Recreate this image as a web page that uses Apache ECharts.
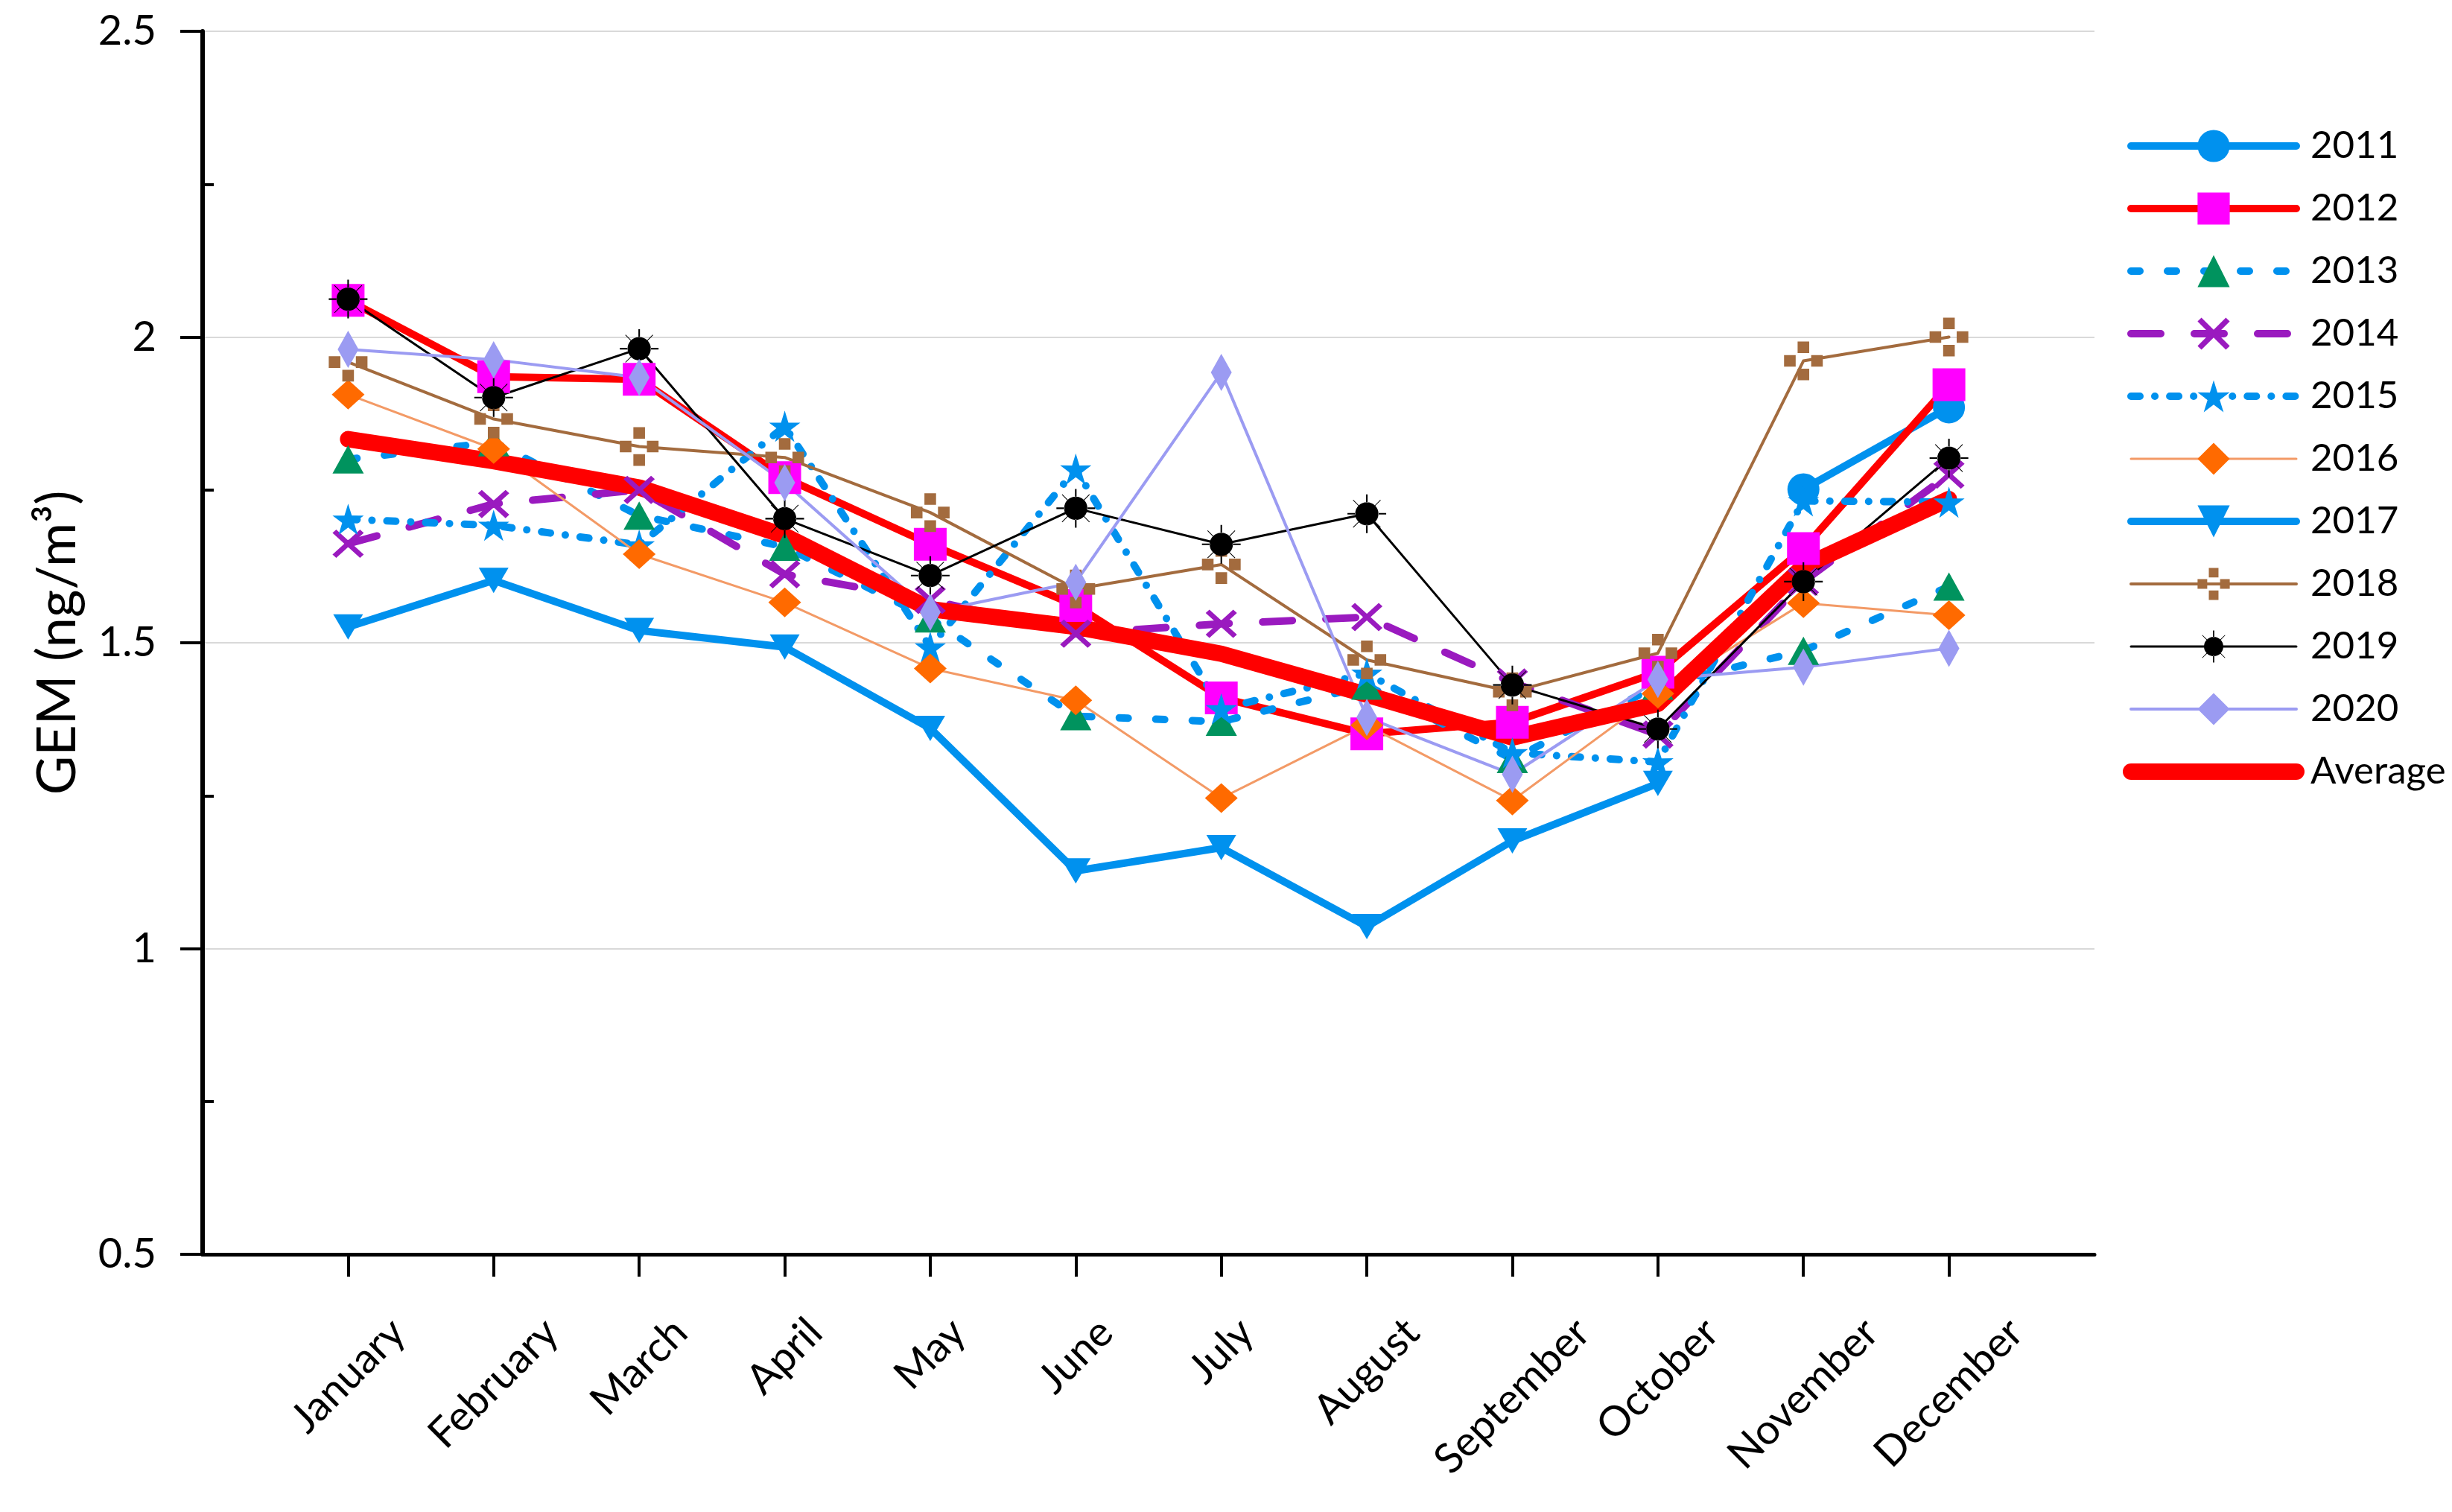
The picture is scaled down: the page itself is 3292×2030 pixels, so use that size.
<!DOCTYPE html>
<html>
<head>
<meta charset="utf-8">
<script src="https://cdn.jsdelivr.net/npm/echarts@6/dist/echarts.min.js"></script>
<style>
html,body{margin:0;padding:0;background:#fff;}
#chart{width:3292px;height:2030px;}
</style>
</head>
<body>
<div id="chart"></div>
<script>
// ---------- data ----------
const months = ['January','February','March','April','May','June','July','August','September','October','November','December'];
const yTicks = [0.5, 1, 1.5, 2, 2.5];
const minorTicks = [0.75, 1.25, 1.75, 2.25];

const y2011 = [null, null, null, null, null, null, null, null, null, null, 1.751, 1.885];
const y2012 = [2.06, 1.935, 1.931, 1.77, 1.661, 1.561, 1.41, 1.351, 1.37, 1.452, 1.654, 1.922];
const y2013 = [1.80, 1.828, 1.708, 1.657, 1.54, 1.38, 1.371, 1.43, 1.31, 1.43, 1.487, 1.592];
const y2014 = [1.662, 1.727, 1.75, 1.612, 1.57, 1.515, 1.531, 1.542, 1.435, 1.35, 1.60, 1.775];
const y2015 = [1.702, 1.692, 1.66, 1.854, 1.493, 1.784, 1.392, 1.45, 1.32, 1.305, 1.732, 1.73];
const y2016 = [1.906, 1.817, 1.645, 1.566, 1.458, 1.406, 1.246, 1.365, 1.242, 1.417, 1.565, 1.545];
const y2017 = [1.526, 1.602, 1.520, 1.493, 1.36, 1.127, 1.165, 1.036, 1.176, 1.27, null, null];
const y2018 = [1.959, 1.866, 1.821, 1.803, 1.713, 1.588, 1.628, 1.472, 1.42, 1.483, 1.961, 2.0];
const y2019 = [2.062, 1.901, 1.981, 1.703, 1.610, 1.720, 1.661, 1.711, 1.431, 1.359, 1.60, 1.802];
const y2020 = [1.980, 1.963, 1.934, 1.762, 1.55, 1.599, 1.942, 1.378, 1.285, 1.44, 1.46, 1.491];
const yAvg  = [1.833, 1.797, 1.754, 1.675, 1.555, 1.526, 1.482, 1.415, 1.345, 1.40, 1.625, 1.735];

// ---------- styles ----------
const FONT = 'Lato';
const BLUE = '#0091EE';
const SYM_X = 'path://M12,0 L50,38 L88,0 L100,12 L62,50 L100,88 L88,100 L50,62 L12,100 L0,88 L38,50 L0,12 Z';
const SYM_STAR = 'path://M50,0 L61.2,34.6 L97.6,34.5 L68.1,55.9 L79.4,90.5 L50,69 L20.6,90.5 L31.9,55.9 L2.4,34.5 L38.8,34.6 Z';
const SYM_PLUS = 'path://M35,0h30v30h-30z M0,35h30v30h-30z M70,35h30v30h-30z M35,70h30v30h-30z';
const SYM_SUN = 'path://M20,50 A30,30 0 1,0 80,50 A30,30 0 1,0 20,50 Z ' +
  'M48,0 h4 v21 h-4 Z M48,79 h4 v21 h-4 Z M0,48 h21 v4 h-21 Z M79,48 h21 v4 h-21 Z ' +
  'M71.9,70.5 L86.1,84.7 L84.7,86.1 L70.5,71.9 Z M28.1,29.5 L13.9,15.3 L15.3,13.9 L29.5,28.1 Z ' +
  'M71.9,29.5 L86.1,15.3 L84.7,13.9 L70.5,28.1 Z M28.1,70.5 L13.9,84.7 L15.3,86.1 L29.5,71.9 Z';

const seriesDefs = [
  {name:'2011', data:y2011, symbol:'circle', size:43, mColor:BLUE, lColor:BLUE, width:10, type:'solid'},
  {name:'2012', data:y2012, symbol:'rect', size:44, mColor:'#FF00FF', lColor:'#FF0000', width:10, type:'solid'},
  {name:'2013', data:y2013, symbol:'triangle', size:[42,38], mColor:'#00935E', lColor:BLUE, width:10, type:[12,37]},
  {name:'2014', data:y2014, symbol:SYM_X, size:[42,38], mColor:'#9A1ABF', lColor:'#9A1ABF', width:10, type:[40,45]},
  {name:'2015', data:y2015, symbol:SYM_STAR, size:42, mColor:BLUE, lColor:BLUE, width:10, type:[12,20,0.1,20]},
  {name:'2016', data:y2016, symbol:'diamond', size:[44,40], mColor:'#FF6A00', lColor:'#F39A66', width:3, type:'solid'},
  {name:'2017', data:y2017, symbol:'triangle', rotate:180, size:[40,34], mColor:BLUE, lColor:BLUE, width:10, type:'solid'},
  {name:'2018', data:y2018, symbol:SYM_PLUS, size:52, mColor:'#A36B3E', lColor:'#A36B3E', width:4, type:'solid'},
  {name:'2019', data:y2019, symbol:SYM_SUN, size:52, mColor:'#000000', lColor:'#000000', width:3, type:'solid'},
  {name:'2020', data:y2020, symbol:'diamond', size:[28,50], mColor:'#9B9BF2', lColor:'#9B9BF2', width:4, type:'solid'},
  {name:'Average', data:yAvg, symbol:'none', size:0, mColor:'#FF0000', lColor:'#FF0000', width:22, type:'solid'}
];

const series = seriesDefs.map(d => ({
  name: d.name,
  type: 'line',
  data: d.data.map((v, i) => [i + 1, v]),
  symbol: d.symbol,
  symbolSize: d.size,
  symbolRotate: d.rotate || 0,
  showSymbol: d.symbol !== 'none',
  itemStyle: {color: d.mColor, borderWidth: 0},
  lineStyle: {color: d.lColor, width: d.width, type: d.type, cap: 'round', join: 'round'},
  emphasis: {disabled: true},
  animation: false,
  z: 2
}));

// measure x label widths so the rotated labels can be centred under ticks
const LBL_FS = 56;
const ctx = document.createElement('canvas').getContext('2d');
ctx.font = LBL_FS + 'px ' + FONT;
const rich = {};
months.forEach((m, i) => {
  const w = ctx.measureText(m).width;
  rich['m' + (i + 1)] = {fontSize: LBL_FS, fontFamily: FONT, color: '#000', padding: [w / 2, w / 2, 0, 0]};
});

const legendData = seriesDefs.map(d => {
  const item = {name: d.name, lineStyle: {width: d.width}};
  if (d.symbol === 'none') item.itemStyle = {opacity: 0};
  return item;
});

const chart = echarts.init(document.getElementById('chart'), null, {renderer: 'canvas'});
chart.setOption({
  backgroundColor: '#ffffff',
  animation: false,
  grid: {left: 272, right: 480, top: 42, bottom: 346, containLabel: false},
  legend: {
    orient: 'vertical', left: 2845, top: 164,
    itemWidth: 222, itemHeight: 54, itemGap: 30,
    selectedMode: false,
    textStyle: {fontSize: 51, fontFamily: FONT, color: '#000', lineHeight: 54, padding: [0, 0, 0, 14]},
    data: legendData
  },
  xAxis: {
    type: 'value', min: 0, max: 13, interval: 1,
    splitLine: {show: false},
    axisLine: {show: true, lineStyle: {color: '#000', width: 5}},
    axisTick: {show: true, customValues: months.map((m, i) => i + 1), length: 30, lineStyle: {color: '#000', width: 4}},
    axisLabel: {
      customValues: months.map((m, i) => i + 1),
      rotate: 45, align: 'center', verticalAlign: 'middle', margin: 96,
      hideOverlap: false,
      formatter: v => '{m' + v + '|' + months[v - 1] + '}',
      rich: rich
    }
  },
  yAxis: [{
    type: 'value', min: yTicks[0], max: yTicks[yTicks.length - 1], interval: 0.5,
    name: 'GEM (ng/m³)', nameLocation: 'middle', nameGap: 158,
    nameTextStyle: {fontSize: 72, fontFamily: FONT, color: '#000'},
    axisLine: {show: true, lineStyle: {color: '#000', width: 6}},
    axisTick: {show: true, length: 30, lineStyle: {color: '#000', width: 4}},
    axisLabel: {fontSize: 56, fontFamily: FONT, color: '#000', margin: 62},
    splitLine: {show: true, lineStyle: {color: '#D9D9D9', width: 2}}
  }, {
    type: 'value', min: yTicks[0], max: yTicks[yTicks.length - 1], position: 'left',
    axisLine: {show: false},
    axisTick: {show: true, inside: true, length: 15, customValues: minorTicks, lineStyle: {color: '#000', width: 4}},
    axisLabel: {show: false},
    splitLine: {show: false}
  }],
  series: series
});
</script>
</body>
</html>
